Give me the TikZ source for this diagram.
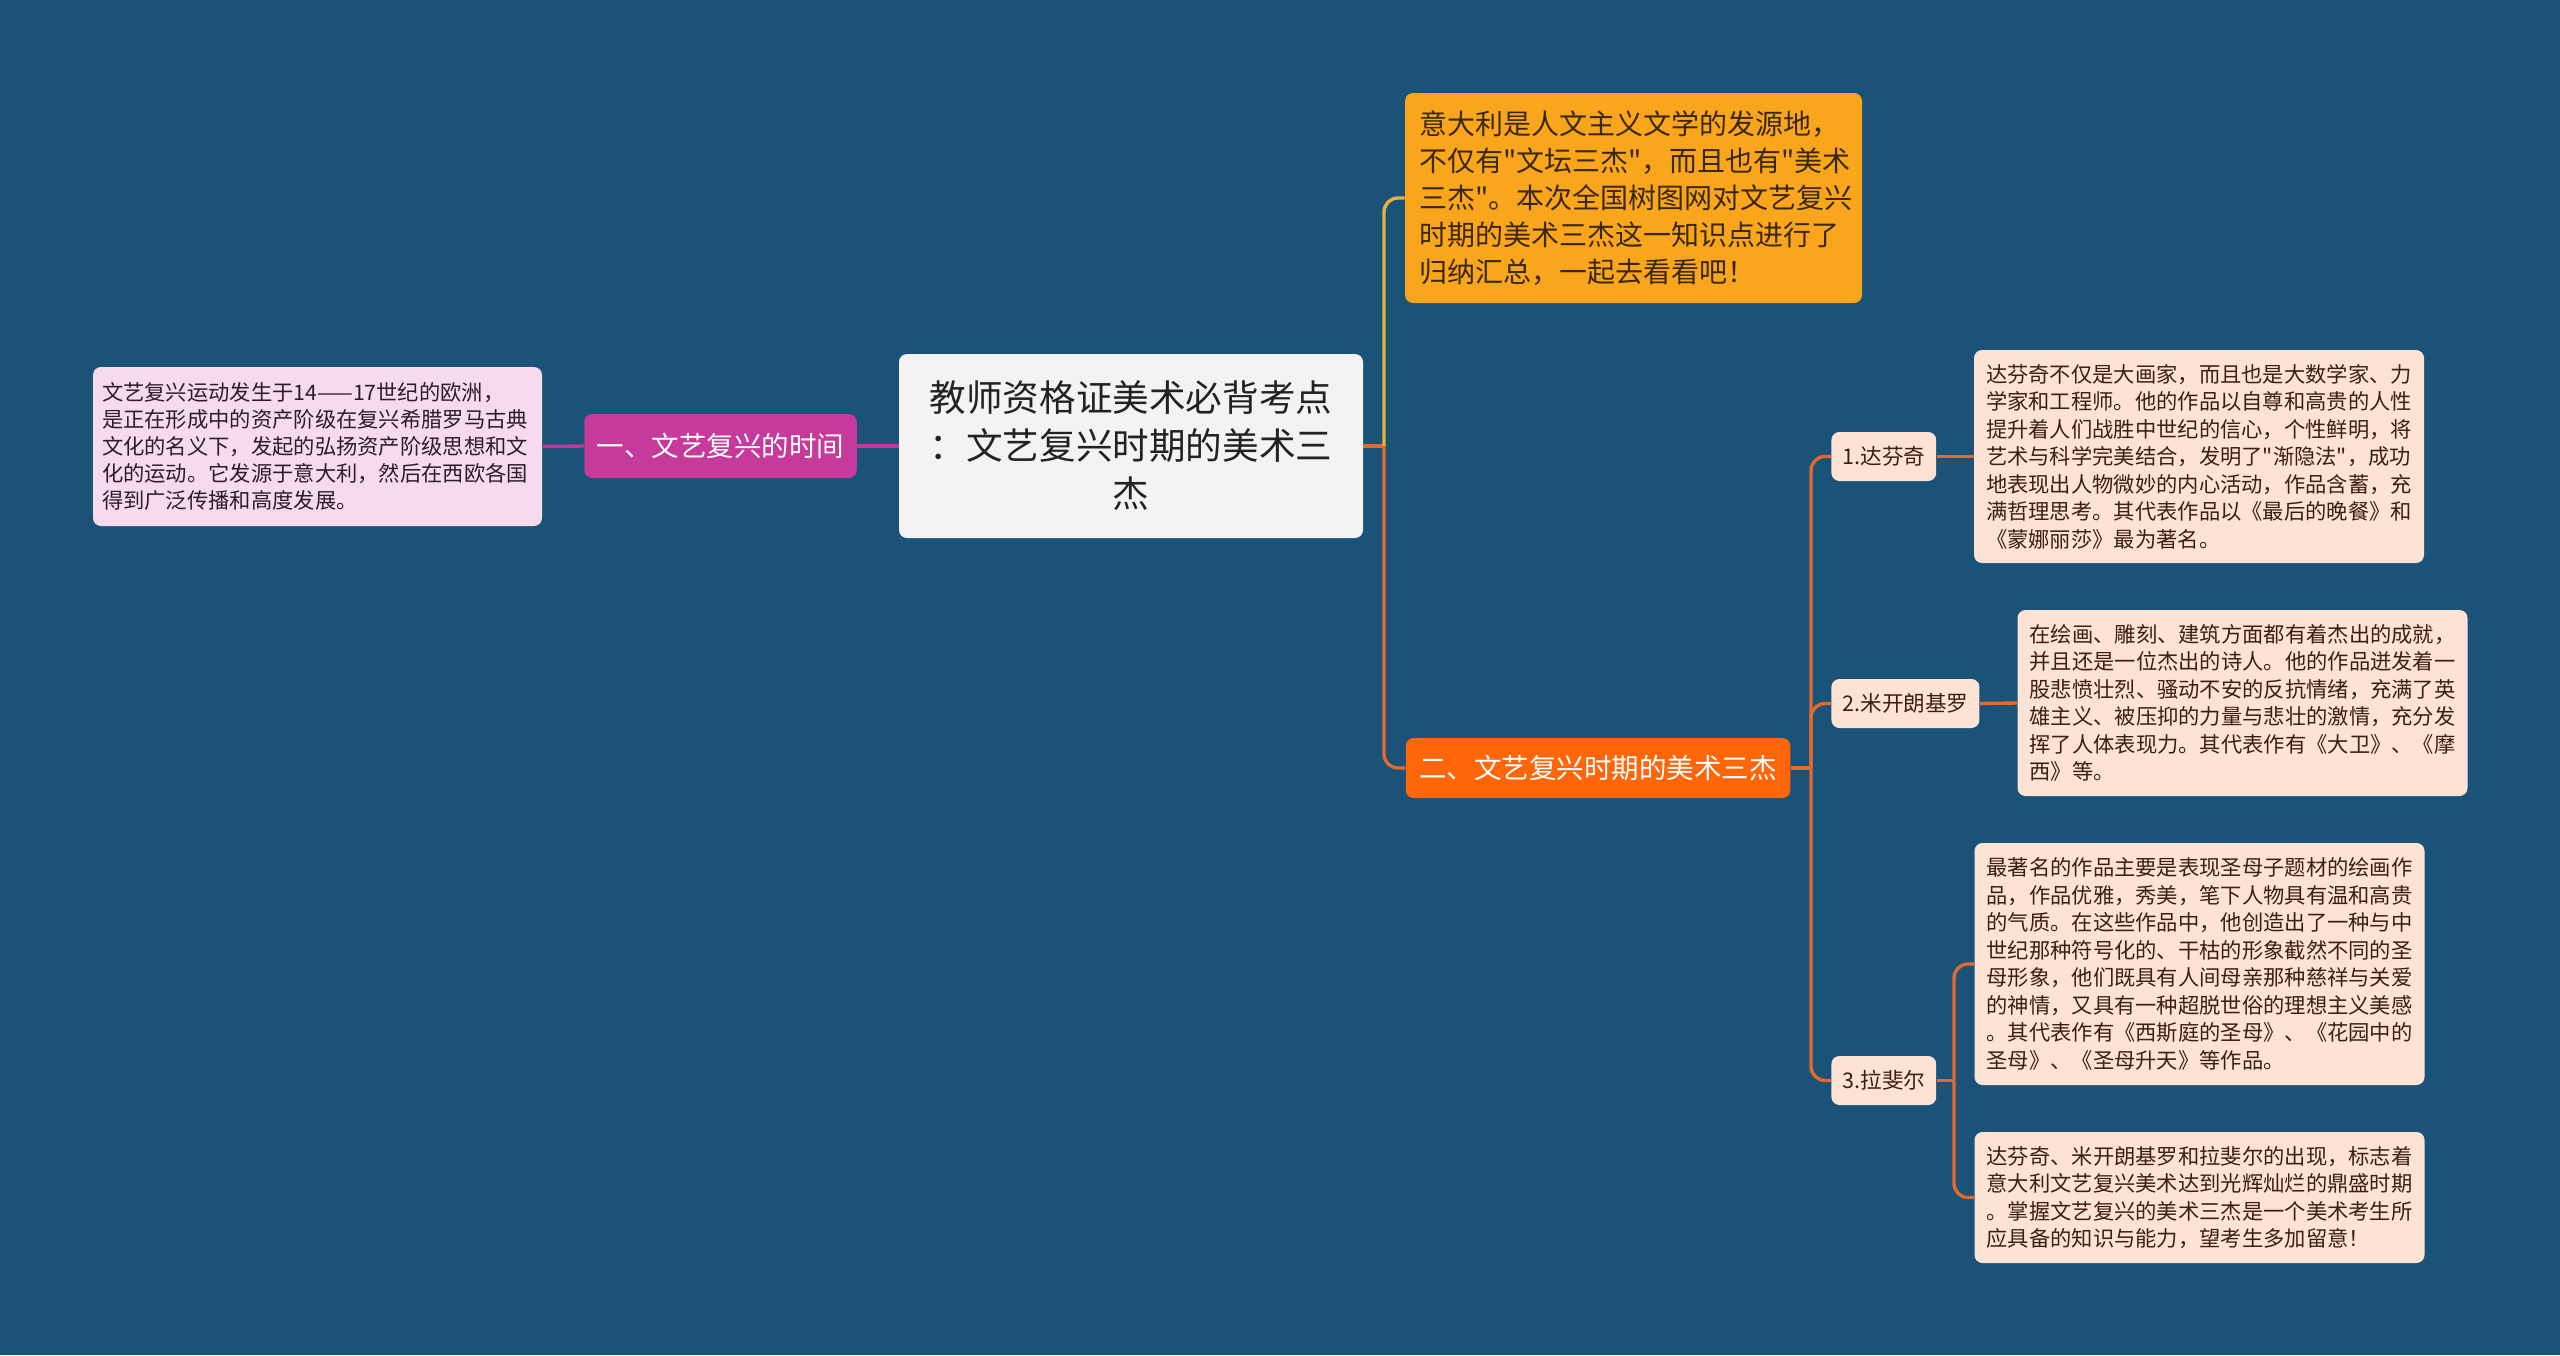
\documentclass[tikz,border=0pt]{standalone}
\usepackage{fontspec}
\setmainfont{Noto Sans CJK SC}[Ligatures=TeXOff]
\definecolor{bg}{RGB}{27,82,120}
\definecolor{peach}{RGB}{253,227,212}
\definecolor{peachtxt}{RGB}{62,30,14}
\definecolor{pinkbox}{RGB}{246,218,238}
\definecolor{pinktxt}{RGB}{45,28,45}
\definecolor{centerfill}{RGB}{243,243,243}
\definecolor{centertxt}{RGB}{34,34,34}
\definecolor{topfill}{RGB}{250,166,28}
\definecolor{toptxt}{RGB}{58,40,12}
\definecolor{secfill}{RGB}{255,102,10}
\definecolor{magfill}{RGB}{198,58,155}
\definecolor{orline}{RGB}{226,106,44}
\definecolor{yeline}{RGB}{232,178,64}
\definecolor{maline}{RGB}{192,57,154}
\tikzset{
  boxbase/.style={rounded corners=4pt, inner ysep=0pt},
  peachbox/.style={boxbase, fill=peach, text=peachtxt, align=left,
    font=\fontsize{10.65}{13.75}\selectfont, inner xsep=6pt, text width=213pt},
  subbox/.style={boxbase, fill=peach, text=peachtxt, anchor=west,
    font=\fontsize{10.8}{13}\selectfont, inner xsep=5.5pt, minimum height=24.5pt},
  conn/.style={line width=1.7pt, rounded corners=7pt},
  oline/.style={conn, draw=orline},
  yline/.style={conn, draw=yeline},
  mline/.style={conn, draw=maline}
}
\begin{document}
\begin{tikzpicture}[x=0.5pt, y=-0.5pt]
\useasboundingbox (0,0) rectangle (2560,1355);
\fill[bg] (0,0) rectangle (2560,1355);

% center
\node[boxbase, fill=centerfill, text=centertxt, align=center, text width=210pt,
  inner xsep=11pt, minimum height=92pt, font=\fontsize{18.3}{24}\selectfont]
  (C) at (1131,446) {教师资格证美术必背考点\\：文艺复兴时期的美术三\\杰};

% left branch
\node[boxbase, fill=magfill, text=white, inner xsep=6.25pt, minimum height=32pt,
  font=\fontsize{13.75}{16}\selectfont] (M) at (720.5,446) {一、文艺复兴的时间};
\node[boxbase, fill=pinkbox, text=pinktxt, align=left, text width=215.5pt,
  inner xsep=4.5pt, minimum height=79.5pt, font=\fontsize{10.65}{13.5}\selectfont]
  (L) at (317.5,446.5) {文艺复兴运动发生于14——17世纪的欧洲，\\是正在形成中的资产阶级在复兴希腊罗马古典\\文化的名义下，发起的弘扬资产阶级思想和文\\化的运动。它发源于意大利，然后在西欧各国\\得到广泛传播和高度发展。};

% top right
\node[boxbase, fill=topfill, text=toptxt, align=left, text width=214.5pt,
  inner xsep=7pt, minimum height=105pt, font=\fontsize{14}{18.5}\selectfont]
  (T) at (1633.5,198) {意大利是人文主义文学的发源地，\\不仅有"文坛三杰"，而且也有"美术\\三杰"。本次全国树图网对文艺复兴\\时期的美术三杰这一知识点进行了\\归纳汇总，一起去看看吧！};

% second branch
\node[boxbase, fill=secfill, text=white, inner xsep=6.75pt, minimum height=30pt,
  font=\fontsize{13.75}{16}\selectfont] (N2) at (1598,768) {二、文艺复兴时期的美术三杰};

\node[subbox] (S1) at (1831,456.5) {1.达芬奇};
\node[subbox] (S2) at (1831,703.5) {2.米开朗基罗};
\node[subbox] (S3) at (1831,1080.5) {3.拉斐尔};

\node[peachbox, minimum height=106.5pt] (B1) at (2199,456.5) {达芬奇不仅是大画家，而且也是大数学家、力\\学家和工程师。他的作品以自尊和高贵的人性\\提升着人们战胜中世纪的信心，个性鲜明，将\\艺术与科学完美结合，发明了"渐隐法"，成功\\地表现出人物微妙的内心活动，作品含蓄，充\\满哲理思考。其代表作品以《最后的晚餐》和\\《蒙娜丽莎》最为著名。};
\node[peachbox, minimum height=93pt] (B2) at (2242.5,703) {在绘画、雕刻、建筑方面都有着杰出的成就，\\并且还是一位杰出的诗人。他的作品迸发着一\\股悲愤壮烈、骚动不安的反抗情绪，充满了英\\雄主义、被压抑的力量与悲壮的激情，充分发\\挥了人体表现力。其代表作有《大卫》、《摩\\西》等。};
\node[peachbox, minimum height=121pt] (B3) at (2199.5,964) {最著名的作品主要是表现圣母子题材的绘画作\\品，作品优雅，秀美，笔下人物具有温和高贵\\的气质。在这些作品中，他创造出了一种与中\\世纪那种符号化的、干枯的形象截然不同的圣\\母形象，他们既具有人间母亲那种慈祥与关爱\\的神情，又具有一种超脱世俗的理想主义美感\\。其代表作有《西斯庭的圣母》、《花园中的\\圣母》、《圣母升天》等作品。};
\node[peachbox, minimum height=65.5pt] (B4) at (2199.5,1197.5) {达芬奇、米开朗基罗和拉斐尔的出现，标志着\\意大利文艺复兴美术达到光辉灿烂的鼎盛时期\\。掌握文艺复兴的美术三杰是一个美术考生所\\应具备的知识与能力，望考生多加留意！};

% junctions
\coordinate (J1) at (1384,446);
\coordinate (J2) at (1811,768);
\coordinate (J3) at (1954,1080.5);

% connectors
\draw[mline] (C.west) -- (M.east);
\draw[mline] (M.west) -- (L.east);
\draw[oline] (C.east) -- (J1);
\draw[yline] (J1) |- (T.west);
\draw[oline] (J1) |- (N2.west);
\draw[oline] (N2.east) -- (J2);
\draw[oline] (J2) |- (S1.west);
\draw[oline] (J2) |- (S2.west);
\draw[oline] (J2) |- (S3.west);
\draw[oline] (S1.east) -- (B1.west);
\draw[oline] (S2.east) -- (B2.west);
\draw[oline] (S3.east) -- (J3);
\draw[oline] (J3) |- (B3.west);
\draw[oline] (J3) |- (B4.west);
\end{tikzpicture}
\end{document}
